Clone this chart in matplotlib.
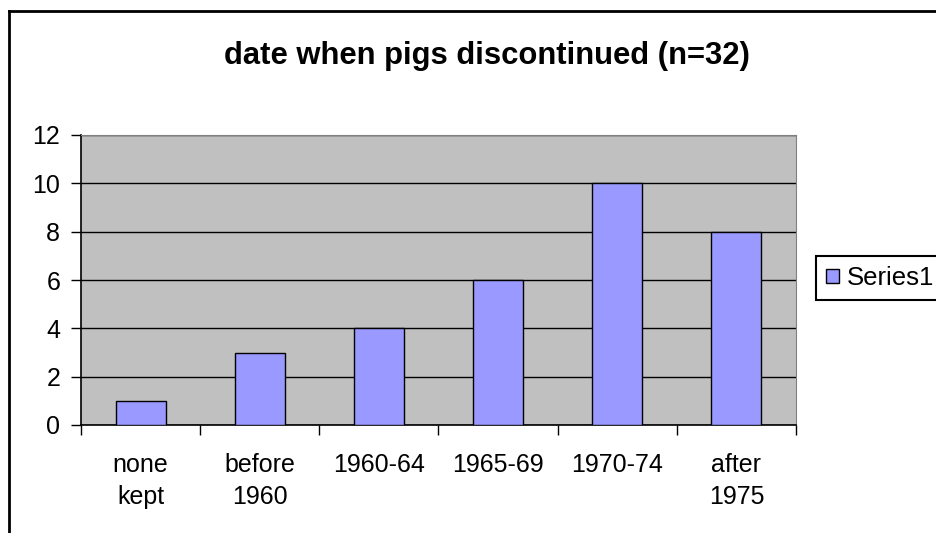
import matplotlib.pyplot as plt
from matplotlib.lines import Line2D

plt.rcParams['font.family'] = ['Liberation Sans', 'DejaVu Sans']

categories = ['none\nkept', 'before\n1960', '1960-64', '1965-69', '1970-74', 'after\n1975']
values = [1, 3, 4, 6, 10, 8]
yticks = [0, 2, 4, 6, 8, 10, 12]

fig = plt.figure(figsize=(9.37, 5.33), dpi=100)
ax = fig.add_axes([81/937, 1-425/533, 715/937, 290/533])
ax.set_facecolor('#C0C0C0')

x = range(len(categories))
bars = ax.bar(x, values, width=0.42, color='#9999FF', edgecolor='black', linewidth=1,
              label='Series1', zorder=3)

ax.set_xlim(-0.5, len(categories) - 0.5)
ax.set_ylim(0, 12)
ax.set_yticks(yticks)
ax.yaxis.grid(True, color='black', linewidth=1, zorder=1)
ax.set_axisbelow(True)

# ticks between categories, labels centred under bars
ax.set_xticks([i - 0.5 for i in range(len(categories) + 1)])
ax.set_xticklabels([])
ax.set_xticks(list(x), minor=True)
ax.set_xticklabels(categories, minor=True, fontsize=18, linespacing=1.45)
ax.tick_params(axis='x', which='minor', length=0, pad=20)
ax.tick_params(axis='x', which='major', length=7, width=1, direction='out')
ax.tick_params(axis='y', length=7, width=1, direction='out', labelsize=18, pad=8)

for s in ['top', 'right']:
    ax.spines[s].set_color('#808080')
for s in ['left', 'bottom']:
    ax.spines[s].set_color('black')
    ax.spines[s].set_linewidth(1.2)

fig.text(487/937, 1-56/533, 'date when pigs discontinued (n=32)', ha='center', va='center',
         fontsize=22.3, fontweight='bold')

# outer chart border (right and bottom edges fall outside the image)
fig.add_artist(Line2D([9/937, 9/937], [0, 1-11/533], transform=fig.transFigure, color='black', lw=2))
fig.add_artist(Line2D([9/937, 1], [1-11/533, 1-11/533], transform=fig.transFigure, color='black', lw=2))

leg = fig.legend(loc='center left', bbox_to_anchor=(816/937, 1-278/533), fontsize=18.5,
                 fancybox=False, edgecolor='black', framealpha=1, handlelength=0.5,
                 handleheight=0.5, handletextpad=0.3, borderpad=0.4, borderaxespad=0)
leg.get_frame().set_linewidth(1.5)

fig.savefig('out.png', dpi=100)
